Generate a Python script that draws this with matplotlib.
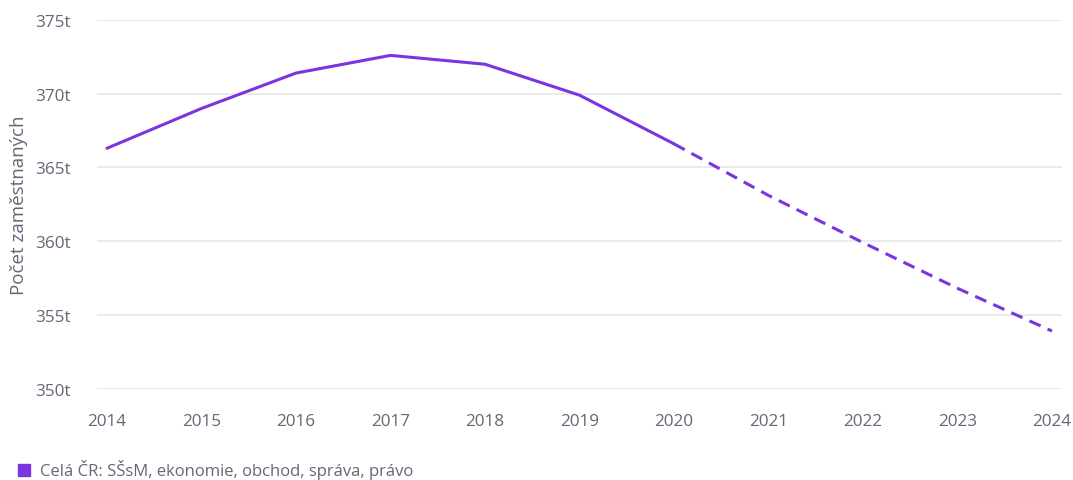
import matplotlib.pyplot as plt
from matplotlib.lines import Line2D

plt.rcParams['font.family'] = ['Open Sans', 'DejaVu Sans']

# data (thousands of employees)
years = [2014, 2015, 2016, 2017, 2018, 2019, 2020, 2021, 2022, 2023, 2024]
values = [366.3, 369.0, 371.4, 372.6, 372.0, 369.9, 366.6, 363.1, 359.9, 356.8, 353.9]
split_year = 2020
y_ticks = [350, 355, 360, 365, 370, 375]
y_label = 'Počet zaměstnaných'
series_name = 'Celá ČR: SŠsM, ekonomie, obchod, správa, právo'

line_color = '#7a35e0'
text_color = '#666677'
grid_color = '#e6e6e6'

fig = plt.figure(figsize=(10.73, 4.81), dpi=100)
ax = fig.add_axes([97 / 1073, 1 - 390 / 481, (1062 - 97) / 1073, (390 - 21) / 481])

k = years.index(split_year)
ax.plot(years[:k + 1], values[:k + 1], color=line_color, lw=2.2, solid_capstyle='round')
ax.plot(years[k:], values[k:], color=line_color, lw=2.2, ls=(0, (4, 2.5)))

ax.set_xlim(2014 - 10 / 94.5, 2024 + 10 / 94.5)
ax.set_ylim(349.97, 375)
ax.set_xticks(years)
ax.set_xticklabels([str(y) for y in years])
ax.set_yticks(y_ticks)
ax.set_yticklabels([f'{v}t' for v in y_ticks])

ax.grid(axis='y', color=grid_color, lw=1.2)
ax.set_axisbelow(True)
for s in ax.spines.values():
    s.set_visible(False)
ax.tick_params(length=0, labelsize=12.3, labelcolor=text_color)
ax.tick_params(axis='y', pad=19)
ax.tick_params(axis='x', pad=17)

ax.set_ylabel(y_label, fontsize=13.5, color=text_color)
ax.yaxis.set_label_coords(-69 / 965, 0.5)

handle = Line2D([], [], marker='s', ls='none', color=line_color, markersize=9)
fig.legend([handle], [series_name], loc='lower left', bbox_to_anchor=(-0.001, -0.03),
           frameon=False, fontsize=12, labelcolor=text_color, handletextpad=0.35,
           handlelength=1.2)

fig.savefig('out.png', dpi=100)
